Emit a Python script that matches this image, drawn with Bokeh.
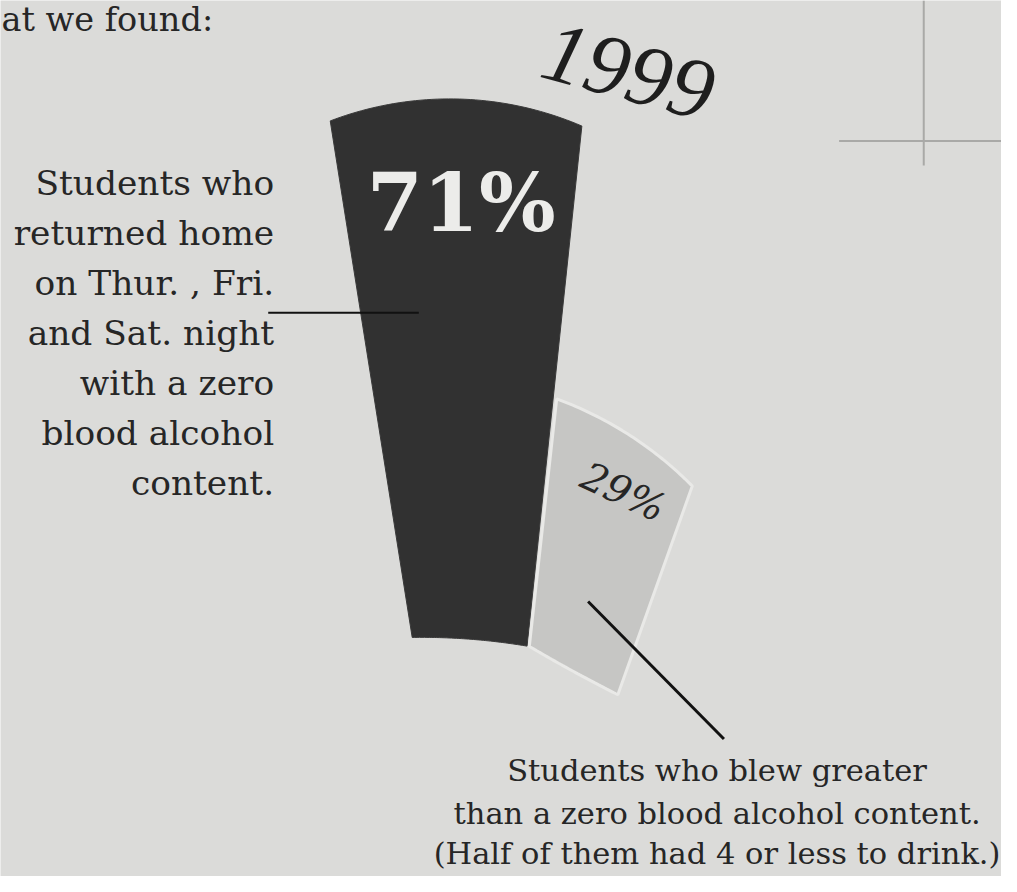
import numpy as np
from bokeh.plotting import figure
from bokeh.models import Range1d
from bokeh.embed import file_html
from bokeh.resources import INLINE
from bokeh.core.properties import value

# ---- data ----
categories = ["Zero blood alcohol", "Greater than zero"]
percents = [71, 29]
pct_labels = ["71%", "29%"]
year_label = "1999"
left_label = ["Students who", "returned home", "on Thur. , Fri.", "and Sat. night",
              "with a zero", "blood alcohol", "content."]
bottom_label = ["Students who blew greater", "than a zero blood alcohol content.",
                "(Half of them had 4 or less to drink.)"]
intro_text = "at we found:"

# ---- layout / style (reference pixel space, y downward; converted below) ----
W, H = 1017, 892
S = 1001 / 1017                      # screen scale for font sizes
PAPER = "#dbdbd9"
INK = "#262626"
C = np.array([489.0, 1095.0])        # common fan centre
PX_PER_PCT = 7.5                     # radial length per percent
bar_style = [
    dict(theta=(-9.0, 6.0), r_in=(452, 440), offset=(0, 0), rho_out=340, rho_in=650,
         fill="#313131", line="#3a3a3a", lw=1),
    dict(theta=(6.3, 19.6), r_in=(440, 412), offset=(36, 8), rho_out=374, rho_in=-1500,
         fill="#c6c6c4", line="#e9e9e7", lw=3),
]
BASE_SHIFT = 0.3                     # em: alphabetic baseline correction


def ray(theta_deg, r):
    t = np.radians(theta_deg)
    return np.array([C[0] + r * np.sin(t), C[1] - r * np.cos(t)])


def arc(P, Q, rho, n=48):
    if rho is None:
        return np.array([P, Q])
    M = (P + Q) / 2
    d = Q - P
    h = np.linalg.norm(d) / 2
    perp = np.array([-d[1], d[0]]) / (2 * h)
    if np.dot(perp, M - C) < 0:
        perp = -perp                      # points away from fan centre
    sgn = 1 if rho > 0 else -1
    rho = abs(rho)
    O = M - sgn * perp * np.sqrt(rho ** 2 - h ** 2)
    a0 = np.arctan2(*(P - O)[::-1])
    a1 = np.arctan2(*(Q - O)[::-1])
    da = (a1 - a0 + np.pi) % (2 * np.pi) - np.pi
    a = a0 + da * np.linspace(0, 1, n)
    return np.column_stack([O[0] + rho * np.cos(a), O[1] + rho * np.sin(a)])


def bar_polygon(pct, st):
    length = pct * PX_PER_PCT
    tl, tr = st["theta"]
    BL = ray(tl, st["r_in"][0])
    BR = ray(tr, st["r_in"][1])
    TL = ray(tl, st["r_in"][0] + length + st["offset"][0])
    TR = ray(tr, st["r_in"][1] + length + st["offset"][1])
    pts = np.vstack([BL[None, :], arc(TL, TR, st["rho_out"]), arc(BR, BL, st["rho_in"])])
    return pts[:, 0], H - pts[:, 1]


p = figure(width=1001, height=876, x_range=Range1d(0, W), y_range=Range1d(0, H),
           output_backend="svg", toolbar_location=None, min_border=0)
p.axis.visible = False
p.grid.visible = False
p.outline_line_color = None
p.background_fill_color = PAPER
p.border_fill_color = PAPER

# registration marks
p.segment(x0=[938, 852], y0=[H - 0, H - 143], x1=[938, 1017], y1=[H - 168, H - 143],
          line_color="#a9a9a7", line_width=2)

# radial bars
for v, st in zip(percents, bar_style):
    xs, ys = bar_polygon(v, st)
    p.patch(xs, ys, fill_color=st["fill"], line_color=st["line"], line_width=st["lw"])

# leader lines
p.segment(x0=[272], y0=[H - 318], x1=[425], y1=[H - 318], line_color="#111111", line_width=2)
p.segment(x0=[597], y0=[H - 612], x1=[735], y1=[H - 752], line_color="#111111", line_width=3)

# percent labels
p.text(x=[468], y=[H - 206], text=[pct_labels[0]], text_font=value("DejaVu Serif"),
       text_font_style="bold", text_font_size=f"{82 * S:.1f}px", text_color="#ececea",
       text_align="center", text_baseline="middle")
p.text(x=[633], y=[H - 500], text=[pct_labels[1]], text_font=value("DejaVu Serif"),
       text_font_style="italic", text_font_size=f"{40 * S:.1f}px", text_color=INK,
       text_align="center", text_baseline="middle", angle=-25, angle_units="deg")

# year
p.text(x=[638], y=[H - 72], text=[year_label], text_font=value("Liberation Serif"),
       text_font_style="italic", text_font_size=f"{88 * S:.1f}px", text_color="#1e1e1e",
       text_align="center", text_baseline="middle", angle=-15, angle_units="deg")


def lines_at(xs, baselines, texts, fs, align):
    shift = BASE_SHIFT * fs
    p.text(x=xs, y=[H - b + shift for b in baselines], text=texts,
           text_font=value("DejaVu Serif"), text_font_size=f"{fs * S:.1f}px",
           text_color=INK, text_align=align, text_baseline="alphabetic")


# left label
lines_at([278] * len(left_label), [196 + 51 * i for i in range(len(left_label))],
         left_label, 35, "right")

# bottom label
lines_at([728] * len(bottom_label), [793, 837, 878], bottom_label, 31, "center")

# intro text at the top edge (kept fully legible)
lines_at([1], [30], [intro_text], 34, "left")

open("out.html", "w").write(file_html(p, INLINE))
